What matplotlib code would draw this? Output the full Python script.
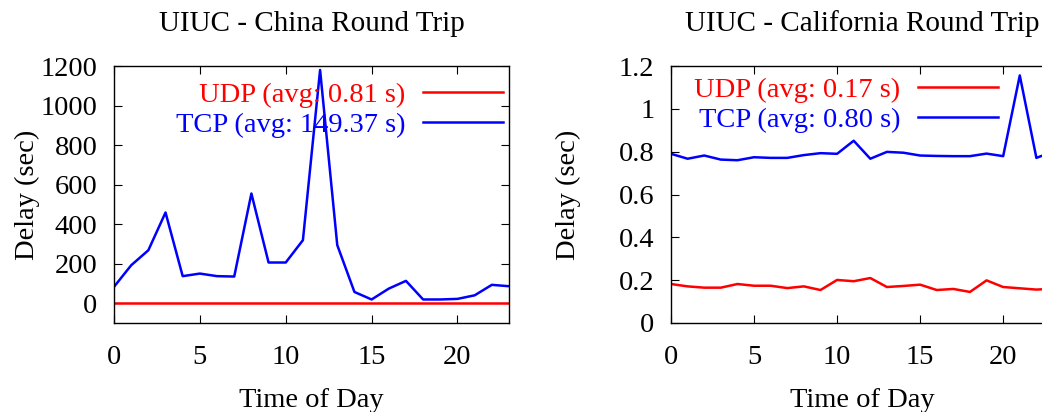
import matplotlib
matplotlib.use("Agg")
import matplotlib.pyplot as plt

plt.rcParams['font.family'] = ['Liberation Serif', 'DejaVu Serif']
plt.rcParams['font.size'] = 20.5

hours = list(range(24))

# UIUC - China
china_udp = [0.81] * 24
china_tcp = [83, 192, 268, 459, 137, 150, 137, 135, 555, 206, 206, 319,
             1180, 294, 57, 19, 74, 113, 19, 19, 22, 40, 93, 86]

# UIUC - California
cali_udp = [0.182, 0.171, 0.165, 0.165, 0.182, 0.174, 0.174, 0.163, 0.171, 0.154,
            0.201, 0.195, 0.210, 0.168, 0.173, 0.179, 0.154, 0.159, 0.145, 0.199,
            0.168, 0.162, 0.156, 0.160]
cali_tcp = [0.790, 0.767, 0.782, 0.763, 0.760, 0.774, 0.771, 0.771, 0.784, 0.793,
            0.790, 0.851, 0.767, 0.799, 0.795, 0.782, 0.780, 0.779, 0.779, 0.791,
            0.779, 1.156, 0.771, 0.800]

labels_china = ['UDP (avg: 0.81 s)', 'TCP (avg: 149.37 s)']
labels_cali = ['UDP (avg: 0.17 s)', 'TCP (avg: 0.80 s)']

W, H = 1042, 412
fig = plt.figure(figsize=(W / 100, H / 100), dpi=100)
ax1 = fig.add_axes([114 / W, (H - 323) / H, 395 / W, 257 / H])
ax2 = fig.add_axes([671 / W, (H - 323) / H, 382 / W, 257 / H])


def style(ax, title, ylim, yticks, ylabelpad):
    ax.set_xlim(0, 23)
    ax.set_ylim(*ylim)
    ax.set_xticks([0, 5, 10, 15, 20])
    ax.set_yticks(yticks)
    ax.tick_params(direction='in', top=True, right=True, length=6, width=0.8)
    ax.tick_params(axis='x', pad=16)
    ax.tick_params(axis='y', pad=12)
    for s in ax.spines.values():
        s.set_linewidth(1.0)
    ax.set_title(title, pad=25, fontsize=21)
    ax.set_xlabel('Time of Day', labelpad=13)
    ax.set_ylabel('Delay (sec)', labelpad=ylabelpad)


leg_kw = dict(loc='upper right', frameon=False, markerfirst=False, labelcolor='linecolor',
              handlelength=2.8, handletextpad=0.63, labelspacing=0.15,
              borderpad=0, borderaxespad=0)

ax1.plot(hours, china_udp, color='#ff0000', lw=1.8, label=labels_china[0])
ax1.plot(hours, china_tcp, color='#0000ff', lw=1.8, label=labels_china[1])
style(ax1, 'UIUC - China Round Trip', (-100, 1200), [0, 200, 400, 600, 800, 1000, 1200], 0)
ax1.legend(bbox_to_anchor=(0.985, 0.937), **leg_kw)

ax2.plot(hours, cali_udp, color='#ff0000', lw=1.8, label=labels_cali[0])
ax2.plot(hours, cali_tcp, color='#0000ff', lw=1.8, label=labels_cali[1])
style(ax2, 'UIUC - California Round Trip', (0, 1.2), [0, 0.2, 0.4, 0.6, 0.8, 1.0, 1.2], 27)
ax2.set_yticklabels(['0', '0.2', '0.4', '0.6', '0.8', '1', '1.2'])
ax2.legend(bbox_to_anchor=(0.856, 0.957), **leg_kw)

fig.savefig('out.png', dpi=100)
